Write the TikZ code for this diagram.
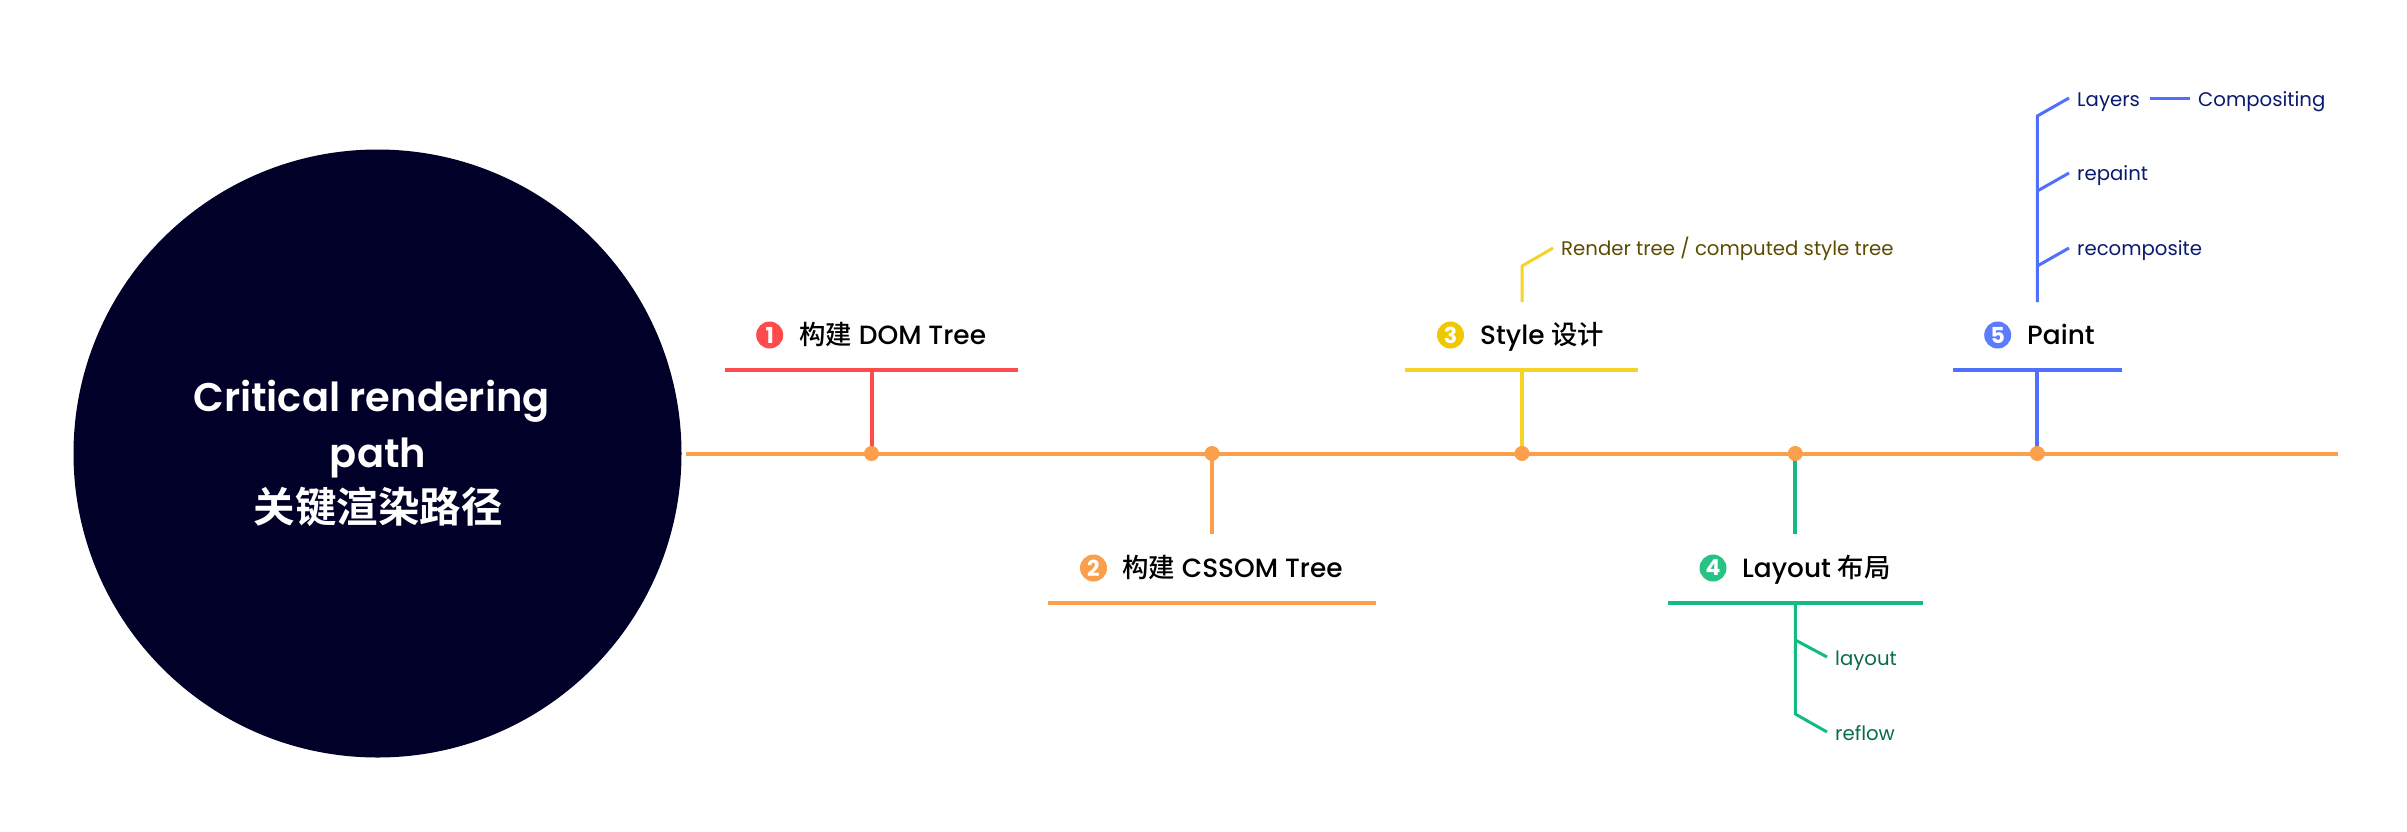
\documentclass[tikz,border=0pt]{standalone}
\usepackage{fontspec}
\setmainfont{Poppins}
\newfontfamily\medf{Poppins Medium}
\newfontfamily\semif{Poppins SemiBold}
\newfontfamily\cjk{Noto Sans CJK SC Medium}
\newfontfamily\cjkb{Noto Sans CJK SC Bold}
\definecolor{navy}{HTML}{000028}
\definecolor{cred}{HTML}{FF4B4B}
\definecolor{corange}{HTML}{FA9F4B}
\definecolor{cyellow}{HTML}{F5D327}
\definecolor{cgold}{HTML}{F0C800}
\definecolor{cgreen}{HTML}{10BD7F}
\definecolor{cgreenb}{HTML}{28C284}
\definecolor{cblue}{HTML}{4F6FFC}
\definecolor{cblueb}{HTML}{5B7CFB}
\definecolor{tolive}{HTML}{5C4B00}
\definecolor{tgreen}{HTML}{0A6B4A}
\definecolor{tnavy}{HTML}{0A1A6E}
\tikzset{
  x=1pt,y=-1pt,
  dotnode/.style={circle,fill=corange,inner sep=0,minimum size=15pt},
  numnode/.style={circle,inner sep=0,minimum size=27pt,text=white,font=\fontsize{22}{22}\selectfont\bfseries},
  headnode/.style={anchor=base west,inner sep=0,text=black,font=\fontsize{26.4}{26.4}\selectfont\medf},
  subnode/.style={anchor=base west,inner sep=0,font=\fontsize{19.7}{19.7}\selectfont},
  thick4/.style={line width=4pt},
  thin3/.style={line width=3pt,line join=miter},
  titlenode/.style={anchor=base,inner sep=0,text=white,font=\fontsize{40}{40}\selectfont\semif},
}
\begin{document}
\begin{tikzpicture}
\path[use as bounding box] (0,0) rectangle (2407,831);
% central circle
\node[circle,fill=navy,inner sep=0,minimum size=608pt] (hub) at (377.5,453.5) {};
\node[titlenode] (t1) at (371.5,411) {Critical rendering};
\node[titlenode] (t2) at (378,467) {path};
\node[titlenode,font=\fontsize{41.5}{41.5}\selectfont\cjkb] (t3) at (378,522) {关键渲染路径};
% trunk
\coordinate (ts) at (686,453.5);
\coordinate (te) at (2338,453.5);
\draw[thick4,corange] (ts) -- (te);
% anchors on the bars
\coordinate (b1l) at (725,370); \coordinate (b1r) at (1018,370); \coordinate (b1m) at (871.5,370);
\coordinate (b2l) at (1048,603); \coordinate (b2r) at (1376,603); \coordinate (b2m) at (1212,534);
\coordinate (b3l) at (1405,370); \coordinate (b3r) at (1638,370); \coordinate (b3m) at (1522,370);
\coordinate (b4l) at (1668,603); \coordinate (b4r) at (1923,603); \coordinate (b4m) at (1795.3,534);
\coordinate (b5l) at (1953,370); \coordinate (b5r) at (2122,370); \coordinate (b5m) at (2037.3,370);
% stems
\draw[thick4,cred] (871.5,453.5) coordinate (s1) -- (b1m);
\draw[thick4,corange] (1212,453.5) coordinate (s2) -- (b2m);
\draw[thick4,cyellow] (1522,453.5) coordinate (s3) -- (b3m);
\draw[thick4,cgreen] (1795.3,453.5) coordinate (s4) -- (b4m);
\draw[thick4,cblue] (2037.3,453.5) coordinate (s5) -- (b5m);
% bars
\draw[thick4,cred] (b1l) -- (b1r);
\draw[thick4,corange] (b2l) -- (b2r);
\draw[thick4,cyellow] (b3l) -- (b3r);
\draw[thick4,cgreen] (b4l) -- (b4r);
\draw[thick4,cblue] (b5l) -- (b5r);
% dots
\node[dotnode] (d1) at (s1) {};
\node[dotnode] (d2) at (s2) {};
\node[dotnode] (d3) at (s3) {};
\node[dotnode] (d4) at (s4) {};
\node[dotnode] (d5) at (s5) {};
% number badges
\node[numnode,fill=cred] (n1) at (769.7,335) {1};
\node[numnode,fill=corange] (n2) at (1093.5,568) {2};
\node[numnode,fill=cgold] (n3) at (1450.5,335) {3};
\node[numnode,fill=cgreenb] (n4) at (1713,568) {4};
\node[numnode,fill=cblueb] (n5) at (1997.7,335) {5};
% headings
\node[headnode] (h1) at (799,344) {{\cjk 构建} DOM Tree};
\node[headnode] (h2) at (1122,577) {{\cjk 构建} CSSOM Tree};
\node[headnode] (h3) at (1480,344) {Style {\cjk 设计}};
\node[headnode] (h4) at (1742,577) {Layout {\cjk 布局}};
\node[headnode] (h5) at (2027,344) {Paint};
% style branch
\node[subnode,text=tolive] (rt) at (1561,255.7) {Render tree / computed style tree};
\coordinate (y0) at (1522,302); \coordinate (y1) at (1522,266); \coordinate (y2) at (1553,248);
\draw[thin3,cyellow] (y0) -- (y1) -- (y2);
% layout branch
\node[subnode,text=tgreen] (la) at (1835,665) {layout};
\node[subnode,text=tgreen] (re) at (1835,740) {reflow};
\coordinate (g0) at (1795.3,603); \coordinate (g1) at (1795.3,714); \coordinate (g2) at (1827,732);
\coordinate (g3) at (1795.3,640); \coordinate (g4) at (1827,657);
\draw[thin3,cgreen] (g0) -- (g1) -- (g2);
\draw[thin3,cgreen] (g3) -- (g4);
% paint branch
\node[subnode,text=tnavy] (ly) at (2077,106) {Layers};
\node[subnode,text=tnavy] (co) at (2198,106) {Compositing};
\node[subnode,text=tnavy] (rp) at (2077,180.7) {repaint};
\node[subnode,text=tnavy] (rc) at (2077,255.7) {recomposite};
\coordinate (p0) at (2037.3,302); \coordinate (p1) at (2037.3,116); \coordinate (p2) at (2069,98);
\coordinate (p3) at (2037.3,191); \coordinate (p4) at (2069,173);
\coordinate (p5) at (2037.3,266); \coordinate (p6) at (2069,248);
\coordinate (p7) at (2150,98); \coordinate (p8) at (2190,98);
\draw[thin3,cblue] (p0) -- (p1) -- (p2);
\draw[thin3,cblue] (p3) -- (p4);
\draw[thin3,cblue] (p5) -- (p6);
\draw[thin3,cblue] (p7) -- (p8);
\end{tikzpicture}
\end{document}
